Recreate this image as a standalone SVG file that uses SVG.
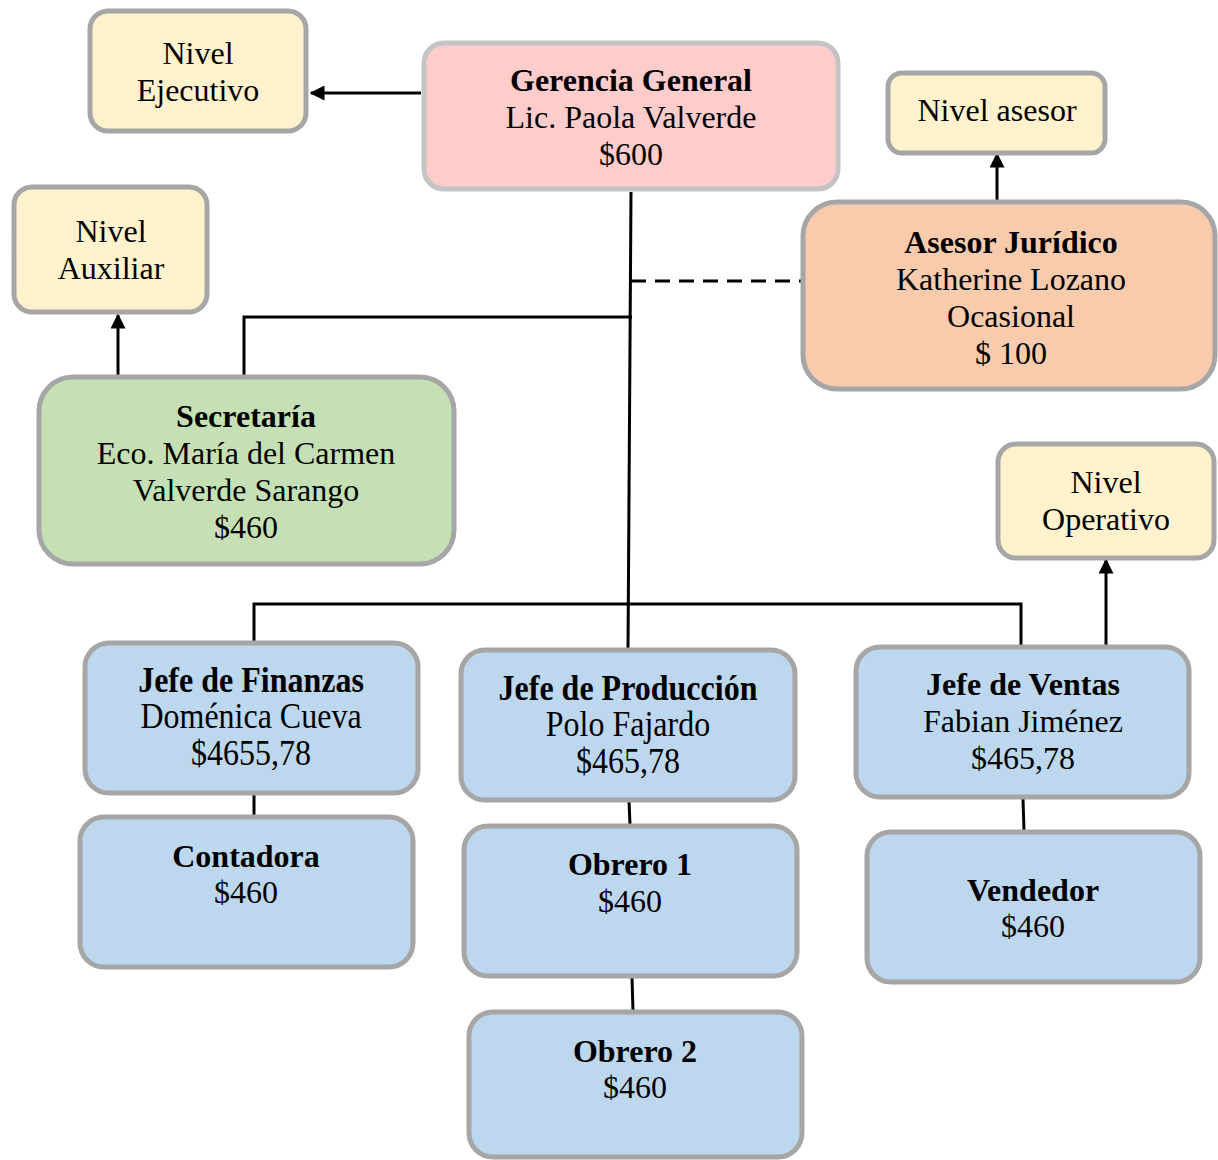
<svg xmlns="http://www.w3.org/2000/svg" width="1218" height="1160" viewBox="0 0 1218 1160">
  <style>
    .box { stroke: #a6a6a6; stroke-width: 5; }
    .lvl { fill: #fff2cc; }
    .blue { fill: #bdd7ee; }
    .t { font-family: "Liberation Serif", "Times New Roman", serif; font-size: 32px; fill: #000; text-anchor: middle; }
    .b { font-weight: bold; }
    .ln { stroke: #000; stroke-width: 3; fill: none; }
  </style>
  <defs>
    <marker id="arr" viewBox="0 0 10 10" refX="9" refY="5" markerWidth="5" markerHeight="5" orient="auto" markerUnits="strokeWidth">
      <path d="M0,0 L10,5 L0,10 Z" fill="#000"/>
    </marker>
  </defs>
  <rect width="1218" height="1160" fill="#fff"/>

  <!-- connectors -->
  <g id="connectors">
    <line class="ln" x1="421" y1="93" x2="311" y2="93" marker-end="url(#arr)"/>
    <line class="ln" x1="997" y1="201" x2="997" y2="154" marker-end="url(#arr)"/>
    <line class="ln" x1="118" y1="376" x2="118" y2="315" marker-end="url(#arr)"/>
    <line class="ln" x1="1106" y1="645" x2="1106" y2="560" marker-end="url(#arr)"/>
    <line class="ln" x1="631" y1="192" x2="628" y2="650"/>
    <line class="ln" x1="631" y1="281" x2="803" y2="281" stroke-dasharray="15 9"/>
    <polyline class="ln" points="244,376 244,317 632,317"/>
    <polyline class="ln" points="254,642 254,604 1021,604 1021,645"/>
    <line class="ln" x1="254" y1="795" x2="254" y2="816"/>
    <line class="ln" x1="629" y1="801" x2="630" y2="825"/>
    <line class="ln" x1="632" y1="977" x2="633" y2="1011"/>
    <line class="ln" x1="1023" y1="799" x2="1024" y2="831"/>
  </g>

  <g id="nivel-ejecutivo">
    <rect class="box lvl" x="90" y="11" width="216" height="120" rx="18"/>
    <text class="t" x="198" y="64">Nivel</text>
    <text class="t" x="198" y="101">Ejecutivo</text>
  </g>

  <g id="gerencia-general">
    <rect x="424" y="43" width="414" height="146" rx="20" fill="#ffcccc" stroke="#c4c4c4" stroke-width="5"/>
    <text class="t b" x="631" y="91">Gerencia General</text>
    <text class="t" x="631" y="128">Lic. Paola Valverde</text>
    <text class="t" x="631" y="165">$600</text>
  </g>

  <g id="nivel-asesor">
    <rect class="box lvl" x="888" y="73" width="217" height="80" rx="14"/>
    <text class="t" x="997" y="121">Nivel asesor</text>
  </g>

  <g id="asesor-juridico">
    <rect class="box" x="803" y="202" width="412" height="187" rx="34" fill="#f8cbad"/>
    <text class="t b" x="1011" y="253">Asesor Jurídico</text>
    <text class="t" x="1011" y="290">Katherine Lozano</text>
    <text class="t" x="1011" y="327">Ocasional</text>
    <text class="t" x="1011" y="364">$ 100</text>
  </g>

  <g id="nivel-auxiliar">
    <rect class="box lvl" x="14" y="187" width="193" height="125" rx="18"/>
    <text class="t" x="111" y="242">Nivel</text>
    <text class="t" x="111" y="279">Auxiliar</text>
  </g>

  <g id="secretaria">
    <rect class="box" x="39" y="377" width="415" height="187" rx="34" fill="#c5e0b4"/>
    <text class="t b" x="246" y="427">Secretaría</text>
    <text class="t" x="246" y="464">Eco. María del Carmen</text>
    <text class="t" x="246" y="501">Valverde Sarango</text>
    <text class="t" x="246" y="538">$460</text>
  </g>

  <g id="nivel-operativo">
    <rect class="box lvl" x="998" y="444" width="216" height="114" rx="18"/>
    <text class="t" x="1106" y="493">Nivel</text>
    <text class="t" x="1106" y="530">Operativo</text>
  </g>

  <g id="jefe-finanzas">
    <rect class="box blue" x="85" y="643" width="333" height="150" rx="24"/>
    <g transform="translate(251,692) scale(1,1.12)">
      <text class="t b" x="0" y="0">Jefe de Finanzas</text>
      <text class="t" x="0" y="32.5">Doménica Cueva</text>
      <text class="t" x="0" y="65">$4655,78</text>
    </g>
  </g>

  <g id="jefe-produccion">
    <rect class="box blue" x="461" y="650" width="334" height="150" rx="24"/>
    <g transform="translate(628,700) scale(1,1.12)">
      <text class="t b" x="0" y="0">Jefe de Producción</text>
      <text class="t" x="0" y="32.5">Polo Fajardo</text>
      <text class="t" x="0" y="65">$465,78</text>
    </g>
  </g>

  <g id="jefe-ventas">
    <rect class="box blue" x="856" y="647" width="333" height="150" rx="24"/>
    <text class="t b" x="1023" y="695">Jefe de Ventas</text>
    <text class="t" x="1023" y="732">Fabian Jiménez</text>
    <text class="t" x="1023" y="769">$465,78</text>
  </g>

  <g id="contadora">
    <rect class="box blue" x="80" y="817" width="333" height="150" rx="24"/>
    <text class="t b" x="246" y="867">Contadora</text>
    <text class="t" x="246" y="903">$460</text>
  </g>

  <g id="obrero-1">
    <rect class="box blue" x="464" y="826" width="333" height="150" rx="24"/>
    <text class="t b" x="630" y="875">Obrero 1</text>
    <text class="t" x="630" y="912">$460</text>
  </g>

  <g id="obrero-2">
    <rect class="box blue" x="469" y="1012" width="333" height="145" rx="24"/>
    <text class="t b" x="635" y="1062">Obrero 2</text>
    <text class="t" x="635" y="1098">$460</text>
  </g>

  <g id="vendedor">
    <rect class="box blue" x="867" y="832" width="333" height="150" rx="24"/>
    <text class="t b" x="1033" y="901">Vendedor</text>
    <text class="t" x="1033" y="937">$460</text>
  </g>
</svg>
